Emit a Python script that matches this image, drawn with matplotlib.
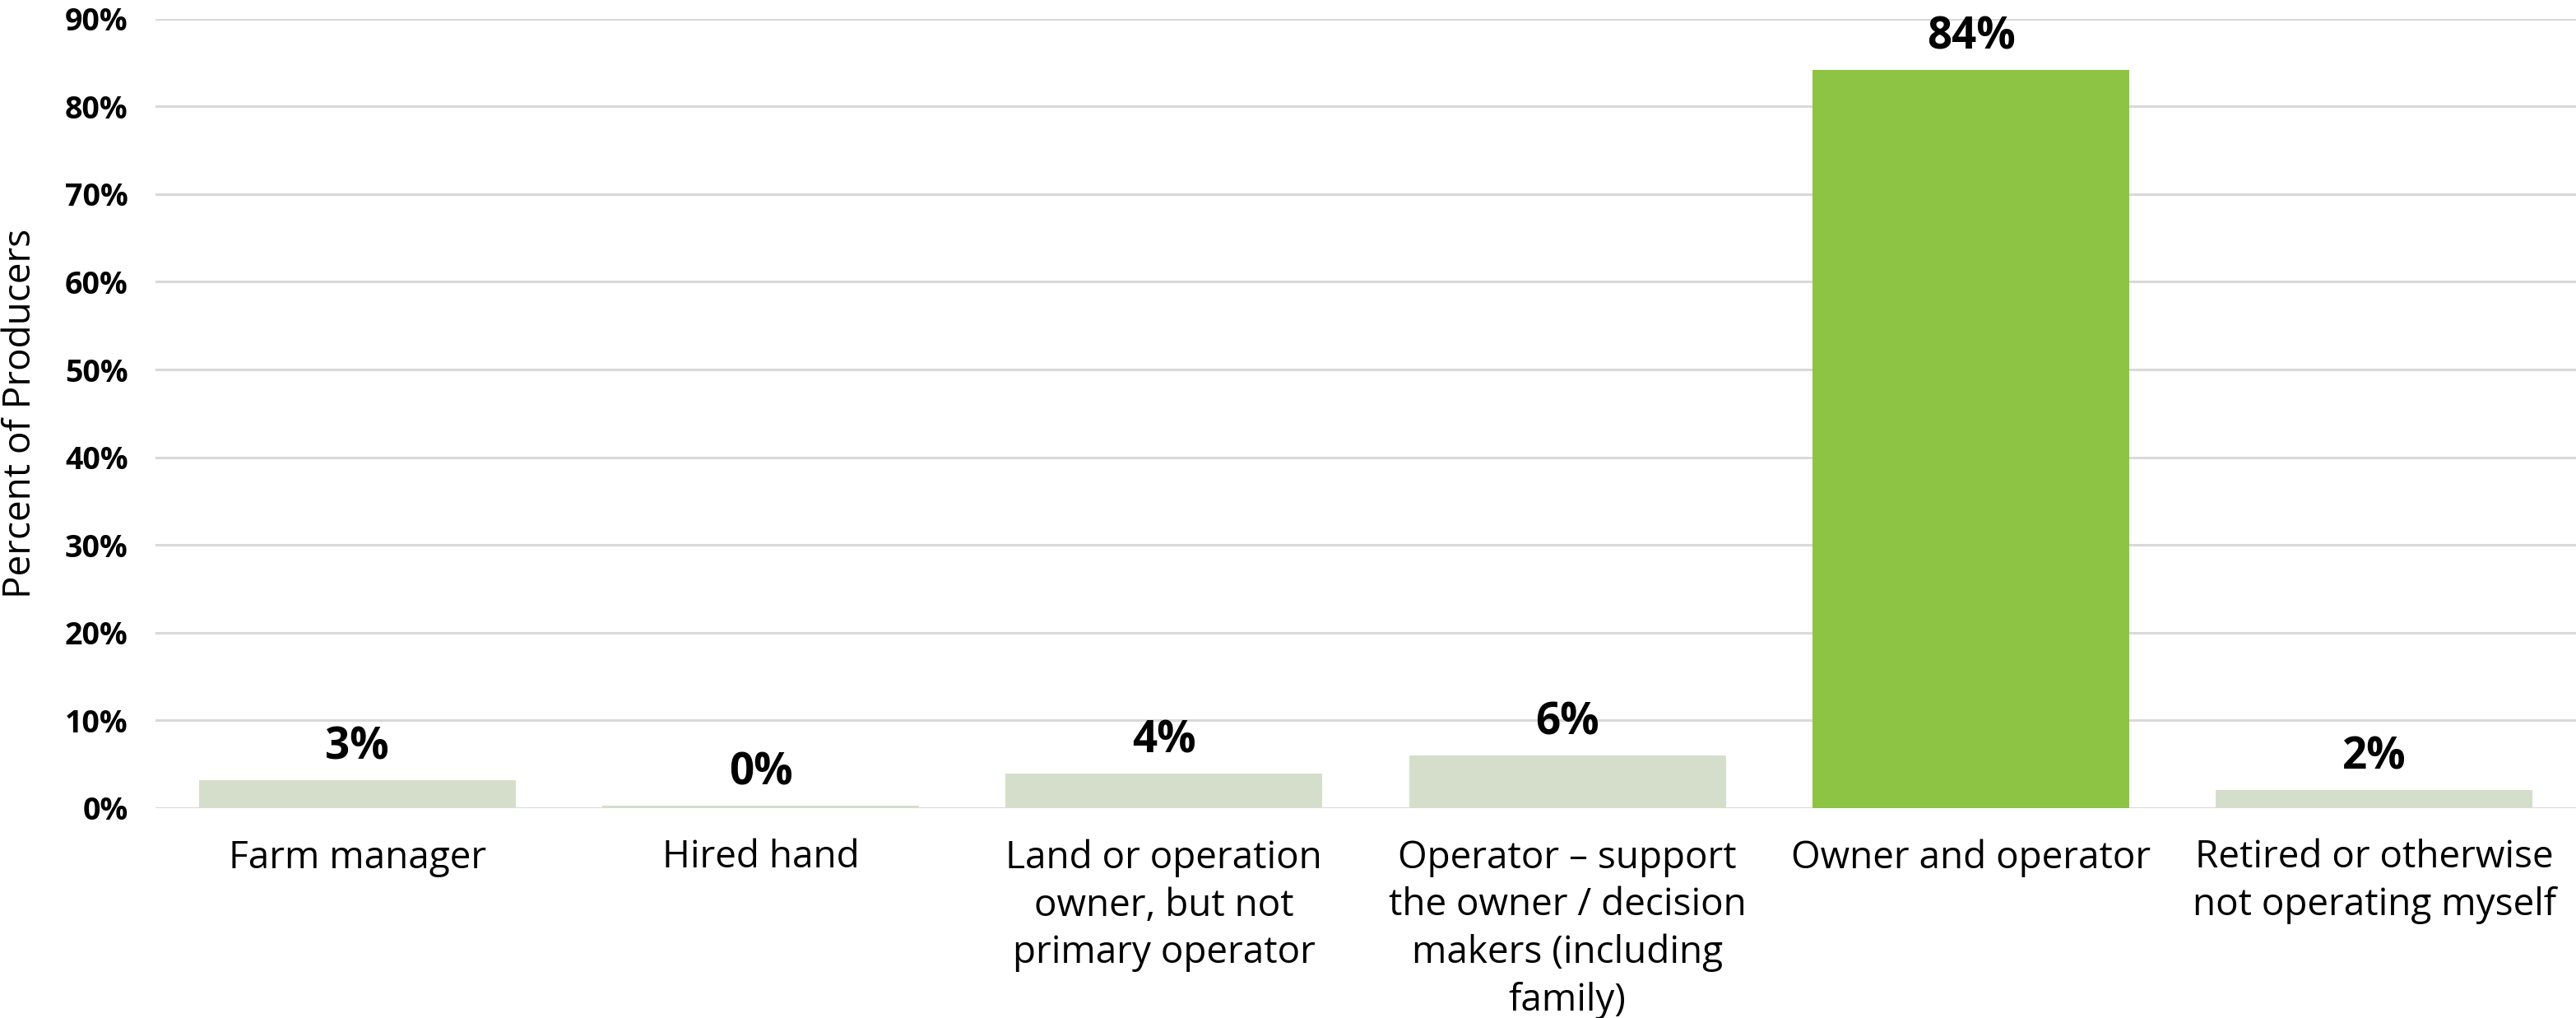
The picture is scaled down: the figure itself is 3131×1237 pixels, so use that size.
import matplotlib.pyplot as plt
from matplotlib.ticker import MultipleLocator, FuncFormatter

# Data
categories = [
    'Farm manager',
    'Hired hand',
    'Land or operation\nowner, but not\nprimary operator',
    'Operator \u2013 support\nthe owner / decision\nmakers (including\nfamily)',
    'Owner and operator',
    'Retired or otherwise\nnot operating myself',
]
values = [3.2, 0.3, 3.9, 6.0, 84.2, 2.1]
labels = ['3%', '0%', '4%', '6%', '84%', '2%']

light = '#D5DECB'
green = '#8DC443'
colors = [green if v == max(values) else light for v in values]

W, H, DPI = 3131, 1237, 100
fig = plt.figure(figsize=(W / DPI, H / DPI), dpi=DPI)
ax = fig.add_axes([189 / W, 1 - 982 / H, 1 - 189 / W, (982 - 22.7) / H])

x = range(len(categories))
bars = ax.bar(x, values, width=0.785, color=colors, zorder=2)

for b, lab in zip(bars, labels):
    ax.annotate(lab, (b.get_x() + b.get_width() / 2, b.get_height()),
                xytext=(0, 9), textcoords='offset points',
                ha='center', va='bottom', fontsize=38, fontweight='bold',
                family='Open Sans')

ax.set_xlim(-0.5, len(categories) - 0.5)
ax.set_ylim(0, 90)
ax.yaxis.set_major_locator(MultipleLocator(10))
ax.yaxis.set_major_formatter(FuncFormatter(lambda v, p: f'{v:.0f}%'))
ax.grid(axis='y', color='#D9D9D9', linewidth=2.2, zorder=0)
ax.set_axisbelow(True)

for s in ax.spines.values():
    s.set_visible(False)

ax.set_xticks(list(x))
ax.set_xticklabels(categories, fontsize=33, family='Open Sans',
                   linespacing=1.33)
ax.tick_params(axis='x', length=0, pad=27)
ax.tick_params(axis='y', length=0, pad=24)
for t in ax.get_yticklabels():
    t.set_fontsize(27)
    t.set_fontweight('bold')
    t.set_family('Open Sans')

fig.text(25 / W, 1 - 502 / H, 'Percent of Producers', rotation=90,
         ha='center', va='center', fontsize=33, family='Open Sans')

fig.savefig('out.png', dpi=DPI)
